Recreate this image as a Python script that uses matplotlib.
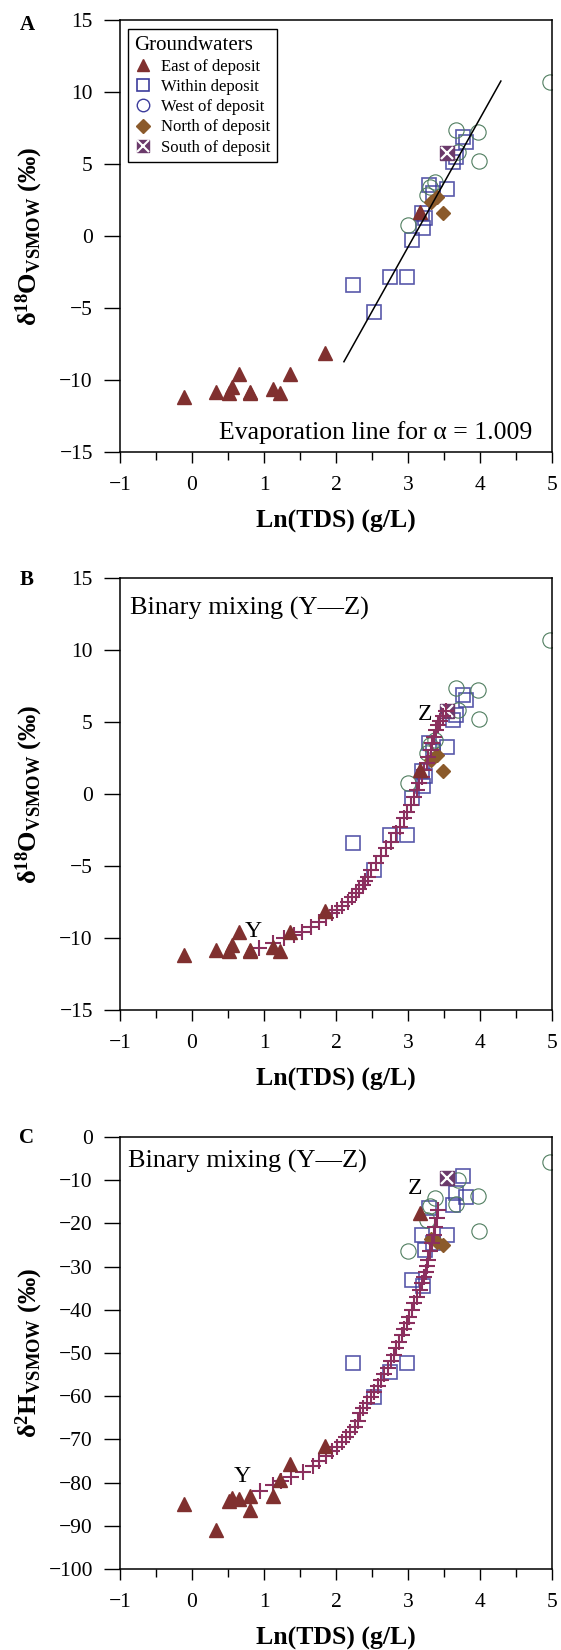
import matplotlib
matplotlib.use("Agg")
import matplotlib.pyplot as plt
from matplotlib.lines import Line2D

plt.rcParams['font.family'] = ['Liberation Serif', 'DejaVu Serif']
plt.rcParams['mathtext.fontset'] = 'custom'
plt.rcParams['mathtext.rm'] = 'Liberation Serif'
plt.rcParams['mathtext.bf'] = 'Liberation Serif:bold'
plt.rcParams['mathtext.it'] = 'Liberation Serif:italic'
plt.rcParams['mathtext.default'] = 'regular'

# ---- data ----
# east of deposit
east_ln = [-0.11, 0.34, 0.51, 0.55, 0.65, 0.81, 0.81, 1.12, 1.22, 1.36, 1.85, 3.17]
east_o = [-11.16, -10.85, -10.92, -10.5, -9.6, -10.85, -10.9, -10.63, -10.92, -9.6, -8.1, 1.64]
east_h = [-84.9, -91.0, -84.2, -83.6, -83.9, -83.1, -86.4, -83.1, -79.4, -75.8, -71.6, -17.5]

# within deposit
within_ln = [2.23, 2.53, 2.75, 2.98, 3.06, 3.21, 3.24, 3.19, 3.29, 3.35, 3.54, 3.63, 3.67, 3.76, 3.80]
within_o = [-3.40, -5.26, -2.82, -2.87, -0.28, 0.53, 1.23, 1.57, 3.54, 3.01, 3.24, 5.16, 5.51, 6.90, 6.55]
within_h = [-52.4, -60.1, -54.5, -52.2, -33.1, -34.5, -26.2, -22.7, -16.5, -24.5, -22.7, -15.7, -13.0, -9.0, -13.8]

# west of deposit
west_ln = [3.00, 3.27, 3.30, 3.37, 3.66, 3.70, 3.97, 3.99, 4.97]
west_o = [0.76, 2.85, 3.38, 3.77, 7.36, 5.80, 7.20, 5.23, 10.69]
west_h = [-26.4, -19.2, -16.0, -14.2, -15.5, -10.0, -13.7, -21.7, -5.9]

# north of deposit
north_ln = [3.32, 3.40, 3.49]
north_o = [2.38, 2.69, 1.62]
north_h = [-23.5, -24.2, -25.0]

# south of deposit
south_ln = [3.54]
south_o = [5.74]
south_h = [-9.6]

# evaporation line (panel A)
evap_ln = [2.11, 4.29]
evap_o = [-8.73, 10.76]

# binary mixing Y-Z, panel B
mix_ln_o = [0.93, 1.12, 1.28, 1.42, 1.53, 1.65, 1.77, 1.86, 1.95, 2.02, 2.09, 2.16, 2.22, 2.28,
            2.32, 2.37, 2.40, 2.44, 2.48, 2.55, 2.62, 2.69, 2.76, 2.83, 2.89, 2.95, 2.99, 3.04,
            3.09, 3.12, 3.15, 3.19, 3.22, 3.26, 3.28, 3.32, 3.34, 3.36, 3.39, 3.42, 3.45, 3.49, 3.53]
mix_o = [-10.72, -10.37, -10.02, -9.79, -9.56, -9.21, -8.87, -8.63, -8.29, -8.06, -7.78, -7.48,
         -7.17, -6.90, -6.62, -6.34, -6.06, -5.78, -5.28, -4.77, -4.31, -3.77, -3.31, -2.73,
         -2.27, -1.69, -1.23, -0.76, -0.19, 0.28, 0.74, 1.20, 1.67, 2.13, 2.59, 3.06, 3.52,
         3.98, 4.44, 4.79, 5.10, 5.45, 5.75]

# binary mixing Y-Z, panel C
mix_ln_h = [0.94, 1.12, 1.24, 1.38, 1.54, 1.68, 1.77, 1.86, 1.94, 2.02, 2.08, 2.14, 2.20, 2.26,
            2.30, 2.33, 2.38, 2.43, 2.48, 2.53, 2.58, 2.63, 2.67, 2.72, 2.77, 2.80, 2.84, 2.88,
            2.91, 2.95, 2.99, 3.02, 3.05, 3.09, 3.13, 3.16, 3.19, 3.22, 3.25, 3.26, 3.28, 3.31,
            3.33, 3.36, 3.38, 3.40, 3.42]
mix_h = [-81.9, -80.6, -79.6, -78.6, -77.5, -76.2, -75.0, -73.8, -72.8, -71.7, -70.5, -69.4,
         -68.2, -67.1, -65.7, -64.0, -62.7, -61.5, -60.1, -59.0, -57.6, -56.3, -54.9, -53.4,
         -51.8, -50.5, -48.9, -47.4, -45.8, -44.5, -43.1, -41.6, -40.0, -38.5, -37.0, -35.4,
         -33.9, -32.5, -31.2, -29.8, -28.5, -26.5, -24.6, -22.7, -20.8, -18.8, -16.9]

c_east = '#80302f'
c_within = '#3c3c9c'
c_west = '#4f7d5f'
c_north = '#8b5a2b'
c_south = '#6b3a6b'
c_mix = '#8b2f5e'

fig = plt.figure(figsize=(5.61, 16.5), dpi=100)

L, W, H = 120 / 561, 432 / 561, 432 / 1650
axA = fig.add_axes([L, (1650 - 452) / 1650, W, H])
axB = fig.add_axes([L, (1650 - 1010) / 1650, W, H])
axC = fig.add_axes([L, (1650 - 1569) / 1650, W, H])


def draw_points(ax, yw, yi, yn, ys, ye, mix=None):
    ax.plot(within_ln, yi, 's', ms=10, mfc='none', mec=c_within, mew=1.2, alpha=0.85, ls='none')
    ax.plot(west_ln, yw, 'o', ms=11, mfc='none', mec=c_west, mew=0.8, ls='none')
    ax.plot(north_ln, yn, 'D', ms=7, color=c_north, ls='none')
    ax.plot(south_ln, ys, 's', ms=10, color=c_south, ls='none')
    ax.plot(south_ln, ys, 'x', ms=9, mec='white', mew=1.6, ls='none')
    if mix is not None:
        ax.plot(mix[0], mix[1], '+', ms=11, mec=c_mix, mew=1.5, ls='none')
    ax.plot(east_ln, ye, '^', ms=10.5, color=c_east, ls='none')


def style(ax, ymin, ymax, ystep, ylab):
    ax.set_xlim(-1, 5)
    ax.set_ylim(ymin, ymax)
    ax.set_xticks(range(-1, 6))
    ax.set_xticks([x + 0.5 for x in range(-1, 5)], minor=True)
    ax.set_yticks(range(ymin, ymax + 1, ystep))
    ax.tick_params(axis='x', which='major', direction='out', length=8, width=1, pad=9, labelsize=15.5)
    ax.tick_params(axis='x', which='minor', direction='out', length=6, width=1)
    ax.tick_params(axis='y', which='major', direction='out', length=11.5, width=1, pad=8, labelsize=15.5)
    for s in ax.spines.values():
        s.set_linewidth(1.1)
    ax.set_xlabel('Ln(TDS) (g/L)', fontsize=18.5, fontweight='bold')
    ax.xaxis.set_label_coords(0.5, -0.161)
    ax.xaxis.label.set_va('center')
    ax.set_ylabel(ylab, fontsize=19, fontweight='bold')
    ax.yaxis.set_label_coords(-0.21, 0.5)
    ax.yaxis.label.set_va('center')


lab_o = r'$\delta^{\mathbf{18}}\mathbf{O}_{\mathbf{VSMOW}}$ (‰)'
lab_h = r'$\delta^{\mathbf{2}}\mathbf{H}_{\mathbf{VSMOW}}$ (‰)'

# panel A
draw_points(axA, west_o, within_o, north_o, south_o, east_o)
axA.plot(evap_ln, evap_o, color='black', lw=1.1)
axA.text(4.725, -13.66, 'Evaporation line for α = 1.009', fontsize=18.5, ha='right', va='center')
style(axA, -15, 15, 5, lab_o)

handles = [
    Line2D([], [], marker='^', ls='none', ms=9, color=c_east),
    Line2D([], [], marker='s', ls='none', ms=9, mfc='none', mec=c_within, mew=1.2),
    Line2D([], [], marker='o', ls='none', ms=9, mfc='none', mec=c_within, mew=1.0),
    Line2D([], [], marker='D', ls='none', ms=7, color=c_north),
    (Line2D([], [], marker='s', ls='none', ms=9, color=c_south),
     Line2D([], [], marker='x', ls='none', ms=8, mec='white', mew=1.5)),
]
labels = ['East of deposit', 'Within deposit', 'West of deposit', 'North of deposit', 'South of deposit']
leg = axA.legend(handles, labels, title='Groundwaters', loc='upper left',
                 bbox_to_anchor=(0.018, 0.979), borderaxespad=0, fontsize=12,
                 title_fontsize=15, fancybox=False, edgecolor='black', framealpha=1,
                 handlelength=1.0, handletextpad=0.6, labelspacing=0.25,
                 borderpad=0.4, alignment='left')
leg.get_frame().set_linewidth(1.0)

# panel B
draw_points(axB, west_o, within_o, north_o, south_o, east_o, mix=(mix_ln_o, mix_o))
axB.text(-0.865, 12.9, 'Binary mixing (Y\u2014Z)', fontsize=19, ha='left', va='center')
axB.text(3.235, 5.49, 'Z', fontsize=17, ha='center', va='center')
axB.text(0.849, -9.56, 'Y', fontsize=17, ha='center', va='center')
style(axB, -15, 15, 5, lab_o)

# panel C
draw_points(axC, west_h, within_h, north_h, south_h, east_h, mix=(mix_ln_h, mix_h))
axC.text(-0.886, -5.7, 'Binary mixing (Y\u2014Z)', fontsize=19, ha='left', va='center')
axC.text(3.10, -11.9, 'Z', fontsize=17, ha='center', va='center')
axC.text(0.70, -78.6, 'Y', fontsize=17, ha='center', va='center')
style(axC, -100, 0, 10, lab_h)

# panel letters
fig.text(27 / 561, 1 - 25 / 1650, 'A', fontsize=15, fontweight='bold', ha='center', va='center')
fig.text(27 / 561, 1 - 580 / 1650, 'B', fontsize=15, fontweight='bold', ha='center', va='center')
fig.text(27 / 561, 1 - 1138 / 1650, 'C', fontsize=15, fontweight='bold', ha='center', va='center')

fig.savefig('out.png', dpi=100)
